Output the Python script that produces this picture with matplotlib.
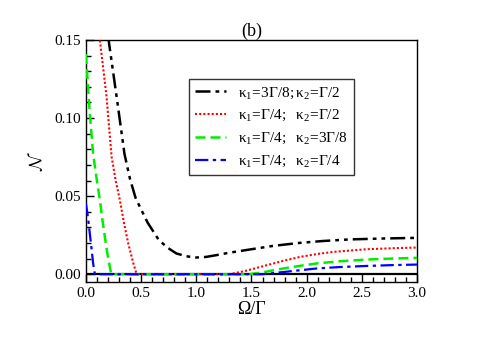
import matplotlib
matplotlib.use("Agg")
import matplotlib.pyplot as plt
from matplotlib.ticker import MultipleLocator

plt.rcParams['font.family'] = ['Liberation Serif', 'DejaVu Serif']
plt.rcParams['mathtext.fontset'] = 'custom'
plt.rcParams['mathtext.rm'] = 'Liberation Serif'
plt.rcParams['mathtext.it'] = 'Liberation Serif:italic'

# Data
x_black = [0.15, 0.21, 0.28, 0.35, 0.40, 0.45, 0.49, 0.56, 0.66, 0.74, 0.82, 0.91, 1.0, 1.09, 1.18, 1.3, 1.49, 1.7, 1.94, 2.15, 2.39, 2.7, 3.0]
y_black = [0.19, 0.148, 0.113, 0.077, 0.061, 0.049, 0.043, 0.033, 0.022, 0.017, 0.0133, 0.0115, 0.0107, 0.0111, 0.0122, 0.0138, 0.0159, 0.0182, 0.0201, 0.0213, 0.0223, 0.0229, 0.0233]

x_red = [0.08, 0.127, 0.187, 0.233, 0.27, 0.308, 0.345, 0.384, 0.43, 0.46, 1.3, 1.45, 1.64, 1.8, 1.94, 2.1, 2.24, 2.54, 2.8, 3.0]
y_red = [0.18, 0.15, 0.114, 0.0754, 0.06, 0.0476, 0.033, 0.0197, 0.007, 0.0, 0.0, 0.0022, 0.0058, 0.0088, 0.0111, 0.013, 0.0143, 0.016, 0.0167, 0.0171]

x_green = [0.0, 0.036, 0.066, 0.1, 0.127, 0.15, 0.172, 0.2, 0.23, 1.48, 1.6, 1.79, 1.95, 2.09, 2.3, 2.54, 2.8, 3.0]
y_green = [0.141, 0.103, 0.077, 0.06, 0.0476, 0.035, 0.024, 0.011, 0.0, 0.0, 0.0012, 0.0037, 0.0055, 0.0069, 0.0083, 0.0094, 0.0101, 0.0105]

x_blue = [0.0, 0.02, 0.036, 0.052, 0.066, 0.082, 1.6, 1.8, 2.09, 2.3, 2.54, 2.8, 3.0]
y_blue = [0.0456, 0.036, 0.026, 0.016, 0.0069, 0.0, 0.0, 0.0015, 0.0037, 0.0046, 0.0053, 0.0059, 0.0062]

labels = [r'$\mathregular{κ_1\!=\!3Γ/8;κ_2\!=\!Γ/2}$',
          r'$\mathregular{κ_1\!=\!Γ/4;\ \ κ_2\!=\!Γ/2}$',
          r'$\mathregular{κ_1\!=\!Γ/4;\ \ κ_2\!=\!3Γ/8}$',
          r'$\mathregular{κ_1\!=\!Γ/4;\ \ κ_2\!=\!Γ/4}$']

xticks = [0.0, 0.5, 1.0, 1.5, 2.0, 2.5, 3.0]
xticklabels = ['0.0', '0.5', '1.0', '1.5', '2.0', '2.5', '3.0']
yticks = [0.0, 0.05, 0.10, 0.15]
yticklabels = ['0.00', '0.05', '0.10', '0.15']

fig = plt.figure(figsize=(4.85, 3.39), dpi=100)
ax = fig.add_axes([0.177, 0.168, 0.683, 0.714])

ax.axhline(0, color='black', lw=1.6, zorder=1)
ax.plot(x_black, y_black, color='black', lw=1.8, ls=(0, (6, 2, 1.5, 2, 1.5, 2)), label=labels[0], zorder=3)
ax.plot(x_red, y_red, color='red', lw=1.5, ls=(0, (1, 1)), label=labels[1], zorder=3)
ax.plot(x_green, y_green, color='#00ee00', lw=1.8, ls=(0, (4, 2)), label=labels[2], zorder=3)
ax.plot(x_blue, y_blue, color='blue', lw=1.6, ls=(0, (6, 2, 1.5, 2)), label=labels[3], zorder=3)

ax.set_xlim(0, 3.0)
ax.set_ylim(-0.005, 0.15)
ax.set_xticks(xticks)
ax.set_xticklabels(xticklabels)
ax.set_yticks(yticks)
ax.set_yticklabels(yticklabels)
ax.xaxis.set_minor_locator(MultipleLocator(0.1))
ax.yaxis.set_minor_locator(MultipleLocator(0.01))
ax.tick_params(which='both', direction='in', labelsize=11, top=False, right=False, width=1.0, color='black')
ax.tick_params(which='major', length=5.5)
ax.tick_params(which='minor', length=3.5)
for s in ax.spines.values():
    s.set_linewidth(1.0)

ax.set_xlabel('Ω/Γ', fontsize=13, labelpad=1)
ax.set_ylabel(r'$\mathcal{N}$', fontsize=13, labelpad=6, math_fontfamily='cm')
ax.set_title('(b)', fontsize=13, pad=3)

leg = ax.legend(loc='upper left', bbox_to_anchor=(0.311, 0.838), fontsize=11,
                frameon=True, fancybox=False, edgecolor='black', handlelength=2.0,
                borderaxespad=0, labelspacing=0.5)
leg.get_frame().set_linewidth(1.0)

fig.savefig('out.png', dpi=100)
